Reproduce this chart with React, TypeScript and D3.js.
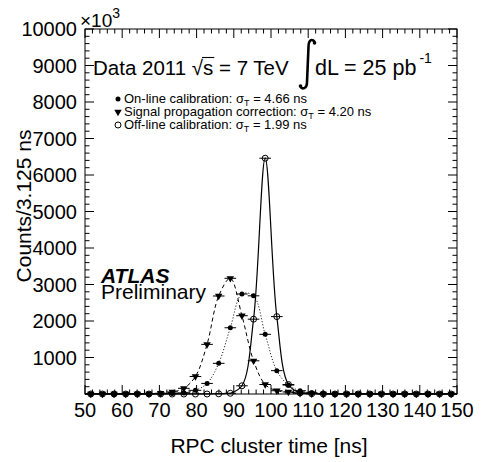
import React, { useEffect, useRef } from "react";
import * as d3 from "d3";

// bin centres of the 3.125 ns bins (ns)
const binCenters = [
  51.5625, 54.6875, 57.8125, 60.9375, 64.0625, 67.1875, 70.3125, 73.4375,
  76.5625, 79.6875, 82.8125, 85.9375, 89.0625, 92.1875, 95.3125, 98.4375,
  101.5625, 104.6875, 107.8125, 110.9375, 114.0625, 117.1875, 120.3125, 123.4375,
  126.5625, 129.6875, 132.8125, 135.9375, 139.0625, 142.1875, 145.3125, 148.4375,
];
const binHalfWidth = 1.5625;

// counts / 3.125 ns, in units of 10^3
const onlineCalib = [
  0, 0, 0, 0, 0, 0, 5, 12, 30, 100, 290, 840, 1815, 2740, 2690, 1635,
  640, 245, 90, 35, 12, 5, 0, 0, 0, 0, 0, 0, 0, 0, 0, 0,
];
const signalPropCorr = [
  0, 0, 0, 0, 0, 5, 20, 55, 155, 480, 1360, 2685, 3170, 2145, 910, 260,
  90, 55, 20, 8, 0, 0, 0, 0, 0, 0, 0, 0, 0, 0, 0, 0,
];
const offlineCalib = [
  0, 0, 0, 0, 0, 0, 0, 0, 0, 0, 0, 5, 20, 225, 2050, 6460,
  2120, 260, 30, 8, 0, 0, 0, 0, 0, 0, 0, 0, 0, 0, 0, 0,
];

const xTickLabels = [50, 60, 70, 80, 90, 100, 110, 120, 130, 140, 150];
const yTickLabels = [1000, 2000, 3000, 4000, 5000, 6000, 7000, 8000, 9000, 10000];

const legendLabels = [
  { text: "On-line calibration: ", sigma: "4.66 ns", marker: "dot" },
  { text: "Signal propagation correction: ", sigma: "4.20 ns", marker: "tri" },
  { text: "Off-line calibration: ", sigma: "1.99 ns", marker: "open" },
];

const FONT = "'Liberation Sans', Arial, Helvetica, sans-serif";

const App = () => {
  const svgRef = useRef<SVGSVGElement>(null);

  useEffect(() => {
    const svg = d3.select(svgRef.current);
    svg.selectAll("*").remove();

    const left = 85, right = 457, top = 29, bottom = 394;
    const x = d3.scaleLinear().domain([50, 150]).range([left, right]);
    const y = d3.scaleLinear().domain([0, 10000]).range([bottom, top]);

    svg.append("rect").attr("width", 484).attr("height", 462).attr("fill", "white");

    // clip for curves
    svg.append("clipPath").attr("id", "frameClip")
      .append("rect").attr("x", left).attr("y", top - 5)
      .attr("width", right - left).attr("height", bottom - top + 5);

    // ticks (ROOT style, inside the frame on all four sides)
    const axes = svg.append("g").attr("stroke", "black").attr("stroke-width", 1);
    const majLen = 9, minLen = 4.5;
    d3.range(50, 150.01, 2).forEach(v => {
      const len = v % 10 === 0 ? majLen : minLen;
      axes.append("line").attr("x1", x(v)).attr("x2", x(v)).attr("y1", bottom).attr("y2", bottom - len);
      axes.append("line").attr("x1", x(v)).attr("x2", x(v)).attr("y1", top).attr("y2", top + len);
    });
    d3.range(0, 10000.01, 200).forEach(v => {
      const len = v % 1000 === 0 ? majLen : minLen;
      axes.append("line").attr("y1", y(v)).attr("y2", y(v)).attr("x1", left).attr("x2", left + len);
      axes.append("line").attr("y1", y(v)).attr("y2", y(v)).attr("x1", right).attr("x2", right - len);
    });
    svg.append("rect")
      .attr("x", left).attr("y", top).attr("width", right - left).attr("height", bottom - top)
      .attr("fill", "none").attr("stroke", "black").attr("stroke-width", 1);

    // tick labels
    svg.append("g").selectAll("text").data(xTickLabels).join("text")
      .attr("x", d => x(d)).attr("y", 416.5)
      .attr("text-anchor", "middle").attr("font-family", FONT).attr("font-size", 20)
      .text(d => d);
    svg.append("g").selectAll("text").data(yTickLabels).join("text")
      .attr("x", 77).attr("y", d => y(d)).attr("dy", "0.36em")
      .attr("text-anchor", "end").attr("font-family", FONT).attr("font-size", 20)
      .text(d => d);

    // ×10^3
    const exp = svg.append("text").attr("x", 80).attr("y", 27)
      .attr("font-family", FONT).attr("font-size", 19);
    exp.append("tspan").text("\u00d710");
    exp.append("tspan").attr("dy", -9).attr("font-size", 14).text("3");

    // axis titles
    svg.append("text").attr("x", 269).attr("y", 453)
      .attr("text-anchor", "middle").attr("font-family", FONT).attr("font-size", 21)
      .text("RPC cluster time [ns]");
    svg.append("text")
      .attr("transform", "translate(31,206) rotate(-90)")
      .attr("text-anchor", "middle").attr("font-family", FONT).attr("font-size", 21)
      .text("Counts/3.125 ns");

    // curves
    const series = [
      { values: signalPropCorr, dash: "4,3", marker: "tri", width: 1 },
      { values: onlineCalib, dash: "1,2", marker: "dot", width: 1 },
      { values: offlineCalib, dash: null, marker: "open", width: 1.2 },
    ];
    const line = d3.line<number>()
      .x((d, i) => x(binCenters[i]))
      .y(d => y(d))
      .curve(d3.curveCatmullRom.alpha(0.5));

    const curves = svg.append("g").attr("clip-path", "url(#frameClip)");
    series.forEach(s => {
      curves.append("path")
        .attr("d", line(s.values))
        .attr("fill", "none").attr("stroke", "black")
        .attr("stroke-width", s.width)
        .attr("stroke-dasharray", s.dash);
    });

    const tri = d3.symbol().type(d3.symbolTriangle).size(24)();
    const drawMarker = (g: any, kind: string, cx: number, cy: number) => {
      if (kind === "dot") {
        g.append("circle").attr("cx", cx).attr("cy", cy).attr("r", 2.5).attr("fill", "black");
      } else if (kind === "open") {
        g.append("circle").attr("cx", cx).attr("cy", cy).attr("r", 3)
          .attr("fill", "none").attr("stroke", "black").attr("stroke-width", 1);
      } else {
        g.append("path").attr("d", tri)
          .attr("transform", `translate(${cx},${cy}) rotate(180)`).attr("fill", "black");
      }
    };

    const marks = svg.append("g");
    series.forEach(s => {
      s.values.forEach((v, i) => {
        const c = binCenters[i];
        marks.append("line")
          .attr("x1", x(c - binHalfWidth)).attr("x2", x(c + binHalfWidth))
          .attr("y1", y(v)).attr("y2", y(v))
          .attr("stroke", "black").attr("stroke-width", 1);
        drawMarker(marks, s.marker, x(c), y(v));
      });
    });

    // header: Data 2011 sqrt(s) = 7 TeV  int dL = 25 pb^-1
    const hdr = svg.append("g").attr("font-family", FONT).attr("font-size", 20.5);
    const h1 = hdr.append("text").attr("x", 93).attr("y", 75);
    h1.append("tspan").text("Data 2011 \u221a");
    h1.append("tspan").text("s");
    h1.append("tspan").text(" = 7 TeV");
    // overline of the square root over "s"
    const node = h1.node() as SVGTextElement;
    const sIdx = "Data 2011 \u221a".length;
    const sx0 = node.getStartPositionOfChar(sIdx).x;
    const sx1 = node.getEndPositionOfChar(sIdx).x;
    const rootEnd = node.getEndPositionOfChar(sIdx - 1).x;
    hdr.append("line").attr("x1", rootEnd - 1).attr("x2", sx1 + 1).attr("y1", 57.5).attr("y2", 57.5)
      .attr("stroke", "black").attr("stroke-width", 1.1);
    const hEnd = node.getComputedTextLength() + 93;

    const ix = Math.max(hEnd + 6, 300);
    hdr.append("path")
      .attr("d", `M ${ix + 15} 43 C ${ix + 13} 38, ${ix + 8.5} 39, ${ix + 8.5} 47 L ${ix + 7} 82 C ${ix + 7} 89, ${ix + 2} 90, ${ix} 86`)
      .attr("fill", "none").attr("stroke", "black").attr("stroke-width", 2.6);
    hdr.append("circle").attr("cx", ix + 14.5).attr("cy", 43).attr("r", 1.8).attr("fill", "black");
    hdr.append("circle").attr("cx", ix + 0.5).attr("cy", 86).attr("r", 1.8).attr("fill", "black");
    const lumi = hdr.append("text").attr("x", ix + 15).attr("y", 75).attr("font-size", 21.5);
    lumi.append("tspan").text("dL = 25 pb");
    lumi.append("tspan").attr("dx", 3).attr("dy", -12).attr("font-size", 14).text("-1");

    // legend
    const leg = svg.append("g");
    legendLabels.forEach((l, i) => {
      const ly = 99 + i * 13;
      drawMarker(leg, l.marker, 118, ly);
      const t = leg.append("text").attr("x", 124).attr("y", ly + 4)
        .attr("font-family", FONT).attr("font-size", 13);
      t.append("tspan").text(l.text + "\u03c3");
      t.append("tspan").attr("dy", 3).attr("font-size", 9).text("T");
      t.append("tspan").attr("dy", -3).text(" = " + l.sigma);
    });

    // ATLAS Preliminary
    svg.append("text").attr("x", 101).attr("y", 283)
      .attr("font-family", FONT).attr("font-size", 21)
      .attr("font-weight", "bold").attr("font-style", "italic").text("ATLAS");
    svg.append("text").attr("x", 101).attr("y", 299)
      .attr("font-family", FONT).attr("font-size", 21).text("Preliminary");
  }, []);

  return (
    <svg
      ref={svgRef}
      width={484}
      height={462}
      style={{ position: "absolute", left: 0, top: 0, display: "block" }}
    />
  );
};

export default App;
